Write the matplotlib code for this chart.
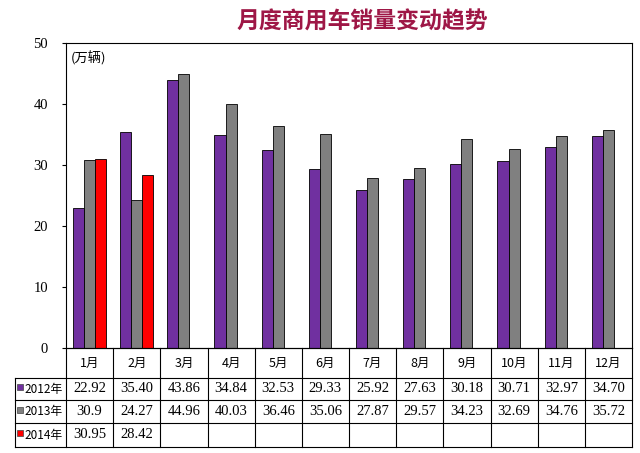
import matplotlib
matplotlib.use("Agg")
import matplotlib.pyplot as plt
from matplotlib.patches import Rectangle
import numpy as np

plt.rcParams['font.family'] = ['Noto Sans CJK SC', 'DejaVu Sans']

title = "月度商用车销量变动趋势"
unit = "(万辆)"
months = ["1月", "2月", "3月", "4月", "5月", "6月", "7月", "8月", "9月", "10月", "11月", "12月"]
series_names = ["2012年", "2013年", "2014年"]
v2012 = [22.92, 35.40, 43.86, 34.84, 32.53, 29.33, 25.92, 27.63, 30.18, 30.71, 32.97, 34.70]
v2013 = [30.9, 24.27, 44.96, 40.03, 36.46, 35.06, 27.87, 29.57, 34.23, 32.69, 34.76, 35.72]
v2014 = [30.95, 28.42]
lab2012 = ["22.92", "35.40", "43.86", "34.84", "32.53", "29.33", "25.92", "27.63", "30.18", "30.71", "32.97", "34.70"]
lab2013 = ["30.9", "24.27", "44.96", "40.03", "36.46", "35.06", "27.87", "29.57", "34.23", "32.69", "34.76", "35.72"]
lab2014 = ["30.95", "28.42"]
colors = ["#7030A0", "#808080", "#FF0000"]

W, H = 640, 453
fig = plt.figure(figsize=(6.4, 4.53), dpi=100)

x0, x1 = 66, 632
yt, yb = 43, 348
ax = fig.add_axes([x0 / W, 1 - yb / H, (x1 - x0) / W, (yb - yt) / H])

n = len(months)
x = np.arange(n)
bw = 0.235
ax.bar(x - bw, v2012, bw, color=colors[0], edgecolor="black", linewidth=0.6)
ax.bar(x, v2013, bw, color=colors[1], edgecolor="black", linewidth=0.6)
ax.bar(np.arange(len(v2014)) + bw, v2014, bw, color=colors[2], edgecolor="black", linewidth=0.6)

ax.set_xlim(-0.5, n - 0.5)
ax.set_ylim(0, 50)
ax.set_yticks(np.arange(0, 51, 10))
ax.set_xticks([])
ax.tick_params(axis='y', direction='out', length=3, labelsize=10.5, pad=10)
for lbl in ax.get_yticklabels():
    lbl.set_family(['Liberation Serif', 'DejaVu Serif'])
for s in ax.spines.values():
    s.set_linewidth(0.8)
ax.text(0.008, 0.95, unit, transform=ax.transAxes, ha='left', va='center', fontsize=9.5)

fig.text(362 / W, 1 - 22 / H, title, ha='center', va='center', fontsize=16.5,
         fontweight='bold', color='#9E1746')

# table
tax = fig.add_axes([0, 0, 1, 1])
tax.set_xlim(0, W)
tax.set_ylim(H, 0)
tax.axis('off')
cw = (x1 - x0) / n
rows_y = [348, 378, 400, 423, 447]
lc = 15
lw = 0.8
tax.plot([x0, x1], [rows_y[0]] * 2, color='black', lw=lw)
for yy in rows_y[1:]:
    tax.plot([lc, x1], [yy, yy], color='black', lw=lw)
for i in range(n + 1):
    tax.plot([x0 + i * cw] * 2, [rows_y[0], rows_y[-1]], color='black', lw=lw)
tax.plot([lc, lc], [rows_y[1], rows_y[-1]], color='black', lw=lw)

for i, m in enumerate(months):
    cx = x0 + (i + 0.5) * cw
    tax.text(cx, (rows_y[0] + rows_y[1]) / 2, m, ha='center', va='center', fontsize=9)
labels = [lab2012, lab2013, lab2014]
for r, labs in enumerate(labels):
    cy = (rows_y[r + 1] + rows_y[r + 2]) / 2
    for i, t in enumerate(labs):
        cx = x0 + (i + 0.5) * cw
        tax.text(cx, cy, t, ha='center', va='center', fontsize=10.5,
                 family=['Liberation Serif', 'DejaVu Serif'])
    tax.add_patch(Rectangle((17, cy - 5), 6, 6, facecolor=colors[r], edgecolor='#444444', lw=0.5))
    tax.text(24, cy, series_names[r], ha='left', va='center', fontsize=8.5,
             family=['Noto Sans CJK SC'])

fig.savefig("out.png", dpi=100)
